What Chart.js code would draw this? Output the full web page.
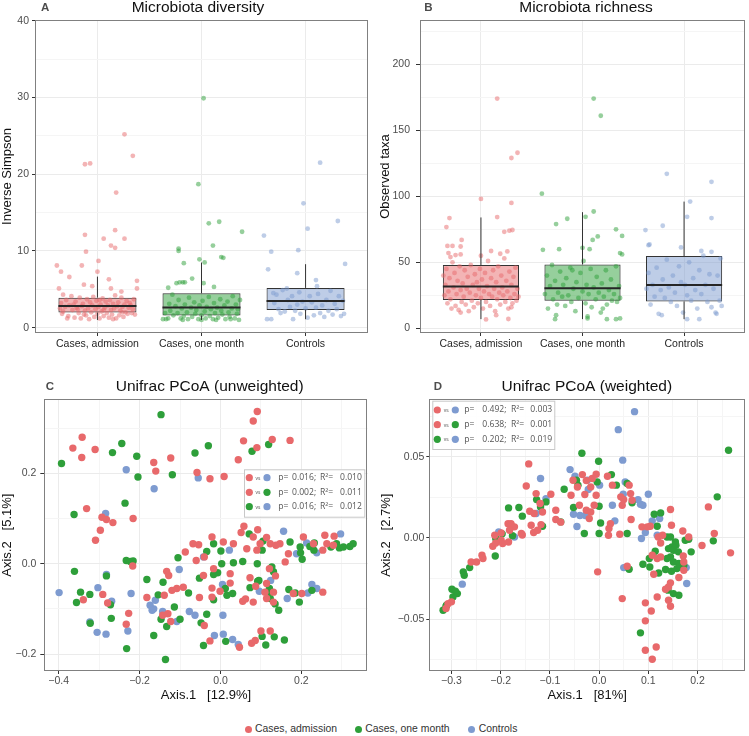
<!DOCTYPE html>
<html>
<head>
<meta charset="utf-8">
<script src="https://cdn.jsdelivr.net/npm/chart.js@4.4.1/dist/chart.umd.min.js"></script>
<style>
  body { margin: 0; background: #fff; width: 749px; height: 736px; position: relative; overflow: hidden;
         font-family: "Liberation Sans", Arial, Helvetica, sans-serif; }
  canvas { position: absolute; }
  #cA { left: 0; top: 0; }
  #cB { left: 375px; top: 0; }
  #cC { left: 0; top: 368px; }
  #cD { left: 375px; top: 368px; }
  .leg { position: absolute; top: 722px; font-size: 10.4px; color: #333; white-space: nowrap; line-height: 14px; }
  .leg i { display: inline-block; width: 7px; height: 7px; border-radius: 50%; margin-right: 3.5px; vertical-align: -0.5px; }
</style>
</head>
<body>
<canvas id="cA" width="375" height="368"></canvas>
<canvas id="cB" width="374" height="368"></canvas>
<canvas id="cC" width="375" height="340"></canvas>
<canvas id="cD" width="374" height="340"></canvas>
<div class="leg" style="left:244.5px"><i style="background:#e8696b"></i>Cases, admission</div>
<div class="leg" style="left:354.8px"><i style="background:#2e9f3a"></i>Cases, one month</div>
<div class="leg" style="left:468.2px"><i style="background:#7e9bd0"></i>Controls</div>
<script>
const FONT = '"Liberation Sans", Arial, Helvetica, sans-serif';
const categories = ['Cases, admission', 'Cases, one month', 'Controls'];
const groupColors = ['#e8696b', '#2e9f3a', '#7e9bd0'];

// A - inverse Simpson (box stats per group, points as [jitter offset, value])
const divQ1 = [1.96, 1.57, 2.31];
const divMed = [2.83, 2.61, 3.48];
const divQ3 = [3.91, 4.48, 5.18];
const divLo = [1.0, 1.0, 1.1];
const divHi = [6.65, 8.48, 8.27];
const divMajor = [0, 10, 20, 30, 40];
const divMinor = [5, 15, 25, 35];
const divAdm = [[-0.12,21.3],[-0.07,21.4],[0.26,25.2],[0.34,22.4],[0.18,17.6],[-0.12,12.1],[0.17,12.7],[0.06,11.6],[0.26,11.6],[-0.11,9.9],[0.13,10.7],[0.17,10.4],[-0.39,8.1],[-0.15,8.1],[0.01,8.7],[-0.35,7.3],[0.0,7.3],[-0.27,6.6],[0.11,6.3],[0.38,6.1],[-0.37,5.1],[-0.13,5.6],[-0.05,5.4],[0.13,5.1],[0.23,4.7],[0.38,5.1],[-0.33,4.3],
  [-0.35,3.2],[-0.33,2.1],[-0.31,2.7],[-0.3,3.6],[-0.28,1.5],[-0.27,2.9],[-0.25,4.1],[-0.24,2.3],[-0.22,1.3],[-0.21,3.4],[-0.2,2.6],[-0.18,1.9],[-0.17,3.9],[-0.16,1.2],[-0.15,2.8],[-0.14,3.1],[-0.12,2.2],[-0.11,1.6],[-0.1,3.7],[-0.09,2.5],[-0.08,1.1],[-0.07,3.3],[-0.06,2.0],[-0.05,2.9],[-0.04,4.0],[-0.03,1.4],[-0.02,2.4],[-0.01,3.5],[0.0,1.8],[0.01,2.7],[0.02,1.2],[0.03,3.0],[0.04,2.1],[0.05,3.8],[0.06,1.5],[0.07,2.6],[0.08,3.4],[0.09,1.9],[0.1,2.9],[0.11,1.3],[0.12,3.6],[0.13,2.3],[0.14,1.7],[0.15,3.1],[0.16,2.5],[0.17,4.2],[0.18,1.2],[0.19,2.8],[0.2,3.3],[0.21,1.6],[0.22,2.2],[0.23,3.9],[0.24,2.7],[0.25,1.4],[0.26,3.0],[0.27,2.0],[0.28,3.5],[0.29,1.8],[0.3,2.6],[0.31,3.2],[0.33,1.9],[0.34,2.4],[0.35,3.7],[0.36,1.7],[-0.36,2.5],[-0.34,1.8],[-0.29,1.2],[-0.23,3.0],[-0.19,2.4],[-0.13,1.7],[0.02,3.6],[0.06,2.3],[0.15,1.1],[0.24,2.0],[0.32,2.9]];
const divMon = [[0.02,29.9],[-0.03,18.7],[0.07,13.6],[0.17,13.8],[0.39,12.5],[-0.22,10.3],[-0.22,10.0],[0.11,10.7],[0.19,9.2],[0.21,9.1],[-0.02,8.9],[0.03,8.5],[-0.17,8.4],[-0.09,6.4],[-0.18,5.9],[-0.24,5.8],[-0.21,5.9],[-0.16,5.9],[-0.32,5.2],[0.12,5.3],[0.02,5.8],
  [-0.37,1.1],[-0.34,1.1],[-0.32,1.2],[-0.31,3.1],[-0.3,2.2],[-0.28,4.3],[-0.27,1.6],[-0.25,2.8],[-0.23,1.9],[-0.22,3.6],[-0.2,1.2],[-0.19,2.5],[-0.17,1.5],[-0.16,3.0],[-0.14,2.0],[-0.13,1.1],[-0.12,3.9],[-0.1,2.6],[-0.09,1.4],[-0.07,3.3],[-0.06,1.8],[-0.05,2.3],[-0.03,1.1],[-0.02,2.9],[0.0,1.6],[0.01,3.5],[0.03,2.1],[0.04,1.2],[0.05,2.7],[0.07,4.0],[0.08,1.5],[0.09,2.4],[0.11,1.1],[0.12,3.2],[0.13,1.9],[0.15,2.6],[0.16,1.3],[0.18,3.7],[0.19,2.2],[0.2,1.7],[0.22,2.9],[0.23,1.1],[0.25,3.4],[0.26,2.0],[0.27,1.4],[0.29,2.5],[0.3,4.1],[0.32,1.2],[0.33,3.0],[0.34,1.8],[0.35,2.4],[0.36,1.0],[0.37,3.6],[-0.35,1.9],[-0.18,1.0],[0.0,1.0],[0.14,1.0],[0.28,1.1]];
const divCtl = [[0.14,21.5],[-0.02,16.2],[0.31,13.9],[-0.4,12.0],[0.02,12.9],[-0.33,9.9],[-0.07,10.1],[0.38,8.3],[-0.36,7.6],[-0.08,7.1],[0.10,6.2],[0.11,5.4],[-0.18,5.1],[-0.31,4.5],
  [-0.37,1.1],[-0.33,1.1],[-0.3,3.2],[-0.28,4.3],[-0.26,2.4],[-0.24,1.9],[-0.22,4.9],[-0.2,2.1],[-0.17,3.6],[-0.15,2.7],[-0.13,4.1],[-0.12,1.1],[-0.1,2.2],[-0.08,3.0],[-0.06,4.6],[-0.05,1.8],[-0.03,3.4],[0.0,2.5],[0.02,1.3],[0.04,4.1],[0.06,3.3],[0.08,1.6],[0.1,2.6],[0.12,4.4],[0.14,1.9],[0.16,2.9],[0.18,1.4],[0.2,3.6],[0.22,2.2],[0.24,4.8],[0.26,1.7],[0.28,3.1],[0.3,2.4],[0.32,4.1],[0.34,1.5],[0.36,3.5],[0.37,1.8]];

// B - observed taxa
const richQ1 = [21.5, 21, 20.4];
const richMed = [31.8, 30.3, 32.8];
const richQ3 = [48, 48.4, 54.8];
const richLo = [7, 7, 7];
const richHi = [84, 88, 96];
const richMajor = [0, 50, 100, 150, 200];
const richMinor = [25, 75, 125, 175, 225];
const richAdm = [[0.16,174],[0.30,129],[0.36,133],[0.0,98],[0.30,95],[-0.31,83.5],[0.16,84.3],[-0.34,76.7],[0.23,73.1],[0.28,74],[0.31,74.5],[-0.19,67],[-0.33,62.4],[-0.28,62.4],[-0.20,62],[0.10,58.6],[0.19,56.5],[0.26,58.3],[-0.32,57],[-0.25,55.5],[-0.20,56],[0.05,6.8],[0.27,7.1],
  [-0.36,25],[-0.35,33],[-0.34,45],[-0.33,19],[-0.32,28],[-0.31,38],[-0.3,22],[-0.29,15],[-0.28,50],[-0.27,31],[-0.26,42],[-0.25,17],[-0.24,26],[-0.23,36],[-0.22,14],[-0.21,47],[-0.2,29],[-0.19,20],[-0.18,34],[-0.17,24],[-0.16,44],[-0.15,18],[-0.14,30],[-0.13,39],[-0.12,13],[-0.11,27],[-0.1,48],[-0.09,21],[-0.08,33],[-0.07,16],[-0.06,41],[-0.05,25],[-0.04,35],[-0.03,19],[-0.02,30],[-0.01,45],[0.0,23],[0.01,37],[0.02,15],[0.03,28],[0.04,42],[0.05,20],[0.06,32],[0.07,51],[0.08,26],[0.09,17],[0.1,38],[0.11,24],[0.12,44],[0.13,30],[0.14,13],[0.15,35],[0.16,22],[0.17,47],[0.18,27],[0.19,18],[0.2,40],[0.21,31],[0.22,25],[0.23,53],[0.24,20],[0.25,36],[0.26,28],[0.27,15],[0.28,43],[0.29,23],[0.3,33],[0.31,19],[0.32,39],[0.33,26],[0.34,46],[0.35,21],[0.36,30],[0.37,24],[-0.37,40],[-0.3,54],[-0.2,12],[0.0,55],[0.15,10],[0.3,16]];
const richMon = [[0.11,174],[0.18,161],[-0.40,102],[-0.15,83],[0.03,84.5],[0.11,88.5],[-0.26,79],[0.33,75],[0.39,70],[0.15,69.6],[0.10,67],[-0.39,59.5],[-0.23,60],[0.0,61],[0.07,60],[0.37,57],[0.39,56],[-0.27,7],[0.05,7.5],[0.24,7],[0.33,7],[0.37,7.5],
  [-0.37,26],[-0.35,40],[-0.34,15],[-0.32,32],[-0.3,48],[-0.29,22],[-0.27,36],[-0.25,18],[-0.24,27],[-0.22,43],[-0.2,24],[-0.19,33],[-0.17,17],[-0.16,38],[-0.14,25],[-0.12,46],[-0.11,20],[-0.09,30],[-0.07,13],[-0.06,35],[-0.04,23],[-0.02,42],[0.0,28],[0.01,51],[0.03,19],[0.04,33],[0.06,26],[0.08,45],[0.09,16],[0.11,31],[0.13,22],[0.14,39],[0.16,27],[0.18,12],[0.19,34],[0.21,24],[0.23,44],[0.24,18],[0.26,29],[0.28,37],[0.29,21],[0.31,26],[0.33,47],[0.34,20],[0.36,32],[0.37,23],[-0.26,10],[0.05,9],[0.2,15],[-0.1,44]];
const richCtl = [[-0.17,117],[0.27,111],[0.06,96],[0.27,83.5],[0.03,84.5],[-0.21,77.7],[-0.38,74.4],[-0.03,61.3],[-0.35,63],[-0.34,63.5],[0.17,58.6],[0.27,58],[-0.22,10],[0.03,7],[0.15,7],[0.32,11],
  [-0.37,30],[-0.35,42],[-0.33,18],[-0.31,33],[-0.29,24],[-0.27,46],[-0.25,11],[-0.23,29],[-0.21,37],[-0.19,23],[-0.17,52],[-0.15,31],[-0.13,20],[-0.11,40],[-0.09,27],[-0.07,17],[-0.05,47],[-0.03,35],[-0.01,12],[0.01,33],[0.03,25],[0.05,50],[0.07,21],[0.09,38],[0.11,29],[0.13,15],[0.15,44],[0.17,26],[0.19,55],[0.21,33],[0.23,20],[0.25,41],[0.27,16],[0.29,30],[0.31,12],[0.33,40],[0.35,21],[0.37,17],[0.36,53]];

// C - unweighted Unifrac PCoA [Axis.1, Axis.2]
const uwAdm = [[-0.365,0.256],[-0.342,0.280],[-0.343,0.235],[-0.310,0.253],[-0.165,0.224],[-0.160,0.205],[-0.123,0.234],[-0.058,0.202],[-0.026,0.188],[0.009,0.193],[0.044,0.230],[0.057,0.272],[0.081,0.316],[0.091,0.337],[0.090,0.257],[0.128,0.275],[0.172,0.273],[-0.331,0.122],[-0.293,0.103],[-0.282,0.098],[-0.266,0.091],[-0.216,0.100],[-0.297,0.074],[-0.309,0.052],
  [-0.217,-0.005],[-0.133,-0.017],[-0.128,-0.026],
  [0.058,0.083],[0.051,0.069],[0.092,0.075],[0.114,0.058],[0.081,0.059],[0.098,0.044],[0.123,0.044],[0.147,0.044],[0.137,0.041],[0.090,0.030],[0.065,0.033],[0.032,0.044],[0.007,0.048],[-0.021,0.059],[-0.054,0.042],[-0.068,0.044],[-0.087,0.026],[-0.060,0.007],[-0.040,0.015],[-0.017,-0.011],[-0.042,-0.026],[0.024,-0.022],[0.073,-0.031],[0.168,0.022],[0.160,0.004],[0.121,-0.011],[0.136,-0.027],[0.230,0.044],[0.258,0.063],[0.281,0.061],[0.263,0.044],[0.205,0.059],[0.253,0.030],[0.279,0.041],
  [-0.120,-0.059],[-0.139,-0.070],[-0.092,-0.052],[-0.108,-0.055],[-0.021,-0.054],[-0.001,-0.061],[0.024,-0.043],[-0.021,-0.074],[-0.052,-0.075],[0.087,-0.050],[0.081,-0.085],[0.055,-0.083],[0.062,-0.078],[0.114,-0.044],[0.110,-0.063],[0.114,-0.077],[0.131,-0.063],[0.131,-0.085],[0.201,-0.066],[0.253,-0.063],[0.180,-0.066],[-0.291,-0.068],[-0.339,-0.080],[-0.279,-0.087],[-0.227,-0.110],[-0.233,-0.134],[-0.182,-0.075],[-0.143,-0.114],[-0.130,-0.111],[-0.123,-0.128],[-0.040,-0.137],[-0.026,-0.171],[0.077,-0.176],[0.086,-0.170],[0.100,-0.149],[0.047,-0.185],[0.123,-0.149]];
const uwMon = [[-0.393,0.222],[-0.267,0.246],[-0.244,0.266],[-0.207,0.238],[-0.204,0.192],[-0.147,0.330],[-0.119,0.197],[-0.063,0.245],[-0.030,0.261],[0.078,0.249],[0.119,0.264],[-0.362,0.109],[-0.236,0.134],
  [-0.233,0.007],[-0.223,0.005],[-0.216,0.006],[-0.361,-0.017],[-0.282,-0.027],[-0.182,-0.035],
  [0.071,0.066],[0.105,0.050],[-0.017,0.044],[-0.034,0.027],[0.001,0.028],[-0.105,0.013],[0.003,0.000],[0.032,0.002],[0.055,0.005],[0.091,0.000],[0.103,0.030],[0.172,0.048],[0.197,0.037],[0.198,0.024],[0.202,0.010],[0.221,0.038],[0.232,0.046],[0.231,0.030],[0.273,0.037],[0.287,0.044],[0.294,0.035],[0.304,0.037],[0.328,0.044],[0.320,0.038],[-0.007,-0.020],[-0.017,-0.024],[-0.052,-0.032],[0.095,-0.037],[0.127,-0.007],[0.131,-0.018],
  [-0.346,-0.063],[-0.323,-0.068],[-0.356,-0.086],[-0.272,-0.091],[-0.270,-0.121],[-0.322,-0.132],[-0.232,-0.188],[-0.142,-0.041],[-0.154,-0.069],[-0.079,-0.065],[-0.017,-0.080],[0.012,-0.055],[0.016,-0.070],[0.030,-0.066],[0.092,-0.039],[0.073,-0.053],[0.121,-0.055],[0.119,-0.070],[0.123,-0.077],[0.135,-0.089],[0.144,-0.103],[0.169,-0.057],[0.185,-0.065],[0.195,-0.085],[0.226,-0.059],[-0.034,-0.112],[-0.048,-0.131],[-0.100,-0.123],[-0.114,-0.096],[-0.147,-0.123],[-0.133,-0.139],[-0.165,-0.159],[-0.136,-0.212],[-0.042,-0.181],[0.013,-0.172],[0.103,-0.161],[0.112,-0.180],[0.133,-0.162],[0.158,-0.169]];
const uwCtl = [[-0.233,0.208],[-0.164,0.166],[-0.055,0.190],[-0.284,0.111],[-0.282,-0.024],
  [0.156,0.072],[0.022,0.030],[-0.042,0.015],[-0.102,-0.013],[0.213,0.046],[0.188,0.022],[0.238,0.024],[0.297,0.066],[0.124,-0.037],
  [-0.399,-0.064],[-0.303,-0.053],[-0.269,-0.083],[-0.221,-0.066],[-0.323,-0.129],[-0.305,-0.152],[-0.283,-0.156],[-0.229,-0.149],[-0.174,-0.092],[-0.165,-0.100],[-0.161,-0.081],[-0.169,-0.103],[-0.143,-0.106],[-0.108,-0.128],[-0.077,-0.106],[-0.063,-0.114],[0.005,-0.046],[0.006,-0.114],[-0.015,-0.159],[0.007,-0.156],[0.030,-0.168],[0.044,-0.179],[0.096,-0.061],[0.165,-0.077],[0.216,-0.065],[0.226,-0.046],[0.238,-0.055]];
const uwXMajor = [-0.4, -0.2, 0, 0.2];
const uwXMinor = [-0.3, -0.1, 0.1, 0.3];
const uwYMajor = [-0.2, 0, 0.2];
const uwYMinor = [-0.1, 0.1, 0.3];

// D - weighted Unifrac PCoA
const wAdm = [[-0.143,0.0456],[-0.148,0.0320],[-0.128,0.0273],[-0.120,0.0212],[-0.141,0.0164],[-0.132,0.0150],[-0.098,0.0269],[-0.115,0.0160],[-0.088,0.0113],[-0.078,0.0097],[-0.088,0.0170],[-0.185,0.0088],[-0.179,0.0088],[-0.172,0.0068],[-0.158,0.0027],[-0.199,0.0031],[-0.182,0.0047],[-0.138,0.0078],[-0.133,0.0033],[-0.125,0.0047],[-0.118,0.0082],[-0.156,0.0018],[-0.057,0.0263],[-0.053,0.0355],[-0.034,0.0390],[-0.026,0.0353],[-0.044,0.0314],[-0.017,0.0314],[-0.029,0.0267],[-0.040,0.0201],[-0.026,0.0170],[0.017,0.0380],[0.027,0.0325],[0.061,0.0325],[-0.212,0.0016],[-0.199,-0.0014],[-0.014,0.0366],[-0.006,0.0392],
  [-0.006,0.0263],[0.044,0.0253],[0.050,0.0236],[0.064,0.0273],[0.067,0.0232],[0.047,0.0201],[-0.010,0.0201],[-0.017,0.0160],[-0.020,0.0119],[0.023,0.0088],[0.020,0.0058],[0.019,0.0016],[0.042,0.0023],[0.065,0.0113],[0.087,0.0068],[0.098,0.0068],[0.104,0.0072],[0.145,0.0175],[0.147,0.0078],[0.120,0.0006],[0.129,0.0016],[0.125,-0.0031],[0.170,0.0043],[0.182,0.0006],[0.209,-0.0047],[0.234,0.0027],[0.267,-0.0092],[0.222,0.0191],[0.108,-0.0107],[0.118,-0.0127],[0.125,-0.0117],[0.171,-0.0111],[0.172,-0.0148],[0.172,-0.0199],[0.162,-0.0244],[0.145,-0.0277],[0.141,-0.0302],[0.135,-0.0316],[0.111,-0.0224],[0.057,-0.0175],[-0.003,-0.0209],[0.118,-0.0364],[0.141,-0.0384],[0.047,-0.0374],
  [-0.216,-0.0051],[-0.210,-0.0031],[-0.196,-0.0035],[-0.184,-0.0025],[-0.260,-0.0148],[-0.249,-0.0148],[-0.238,-0.0107],[-0.236,-0.0127],[-0.300,-0.0394],[-0.307,-0.0405],[-0.311,-0.0435],[0.094,-0.0400],[0.106,-0.0450],[0.094,-0.0511],[0.145,-0.0421],[0.094,-0.0692],[0.116,-0.0672],[0.108,-0.0748]];
const wMon = [[-0.035,0.0522],[-0.001,0.0472],[-0.127,0.0236],[-0.108,0.0222],[-0.119,0.0191],[-0.071,0.0300],[-0.046,0.0355],[-0.043,0.0325],[-0.004,0.0345],[0.025,0.0390],[0.035,0.0325],[0.057,0.0335],[-0.030,0.0027],[-0.156,0.0134],[-0.163,0.0187],[-0.184,0.0185],[-0.197,0.0025],[-0.176,0.0014],[-0.210,-0.0004],[-0.078,0.0099],[-0.115,0.0072],[-0.052,0.0187],[0.263,0.0540],
  [0.000,0.0195],[0.003,0.0092],[0.000,0.0027],[0.057,0.0027],[0.067,0.0216],[0.112,0.0146],[0.125,0.0154],[0.118,0.0072],[0.138,0.0006],[0.145,0.0006],[0.155,-0.0025],[0.175,-0.0014],[0.182,-0.0008],[0.148,-0.0055],[0.141,-0.0066],[0.151,-0.0076],[0.161,-0.0086],[0.156,-0.0045],[0.187,-0.0086],[0.114,-0.0082],[0.102,-0.0127],[0.089,-0.0162],[0.103,-0.0179],[0.121,-0.0216],[0.135,-0.0195],[0.147,-0.0205],[0.158,-0.0189],[0.165,-0.0179],[0.162,-0.0158],[0.172,-0.0168],[0.151,-0.0148],[0.145,-0.0117],[0.138,-0.0127],[0.140,-0.0322],[0.151,-0.0343],[0.162,-0.0353],[0.061,-0.0193],[0.232,-0.0018],[0.240,0.0253],
  [-0.211,-0.0111],[-0.208,-0.0014],[-0.263,-0.0183],[-0.276,-0.0209],[-0.274,-0.0230],[-0.299,-0.0316],[-0.288,-0.0343],[-0.297,-0.0364],[-0.292,-0.0329],[-0.310,-0.0415],[-0.317,-0.0446],[-0.311,-0.0421],[0.084,-0.0585]];
const wCtl = [[0.072,0.0778],[0.039,0.0667],[0.048,0.0479],[0.053,0.0345],[-0.059,0.0421],[-0.049,0.0380],[-0.022,0.0298],[0.001,0.0325],[-0.119,0.0366],[-0.108,0.0242],[-0.128,0.0150],[-0.052,0.0146],[-0.039,0.0138],[-0.028,0.0138],[-0.045,0.0070],[-0.204,0.0037],[-0.172,0.0006],[-0.024,0.0355],
  [0.027,0.0201],[0.084,0.0207],[0.089,0.0201],[0.100,0.0269],[0.079,0.0236],[0.049,0.0269],[0.032,0.0105],[0.108,0.0105],[0.123,0.0119],[0.094,0.0033],[0.118,0.0016],[0.086,-0.0004],[0.177,-0.0183],[0.178,-0.0281],[0.050,-0.0183],
  [-0.278,-0.0285]];
const wXMajor = [-0.3, -0.2, -0.1, 0, 0.1, 0.2];
const wXMinor = [-0.25, -0.15, -0.05, 0.05, 0.15, 0.25];
const wYMajor = [-0.05, 0, 0.05];
const wYMinor = [-0.075, -0.025, 0.025, 0.075];

// pairwise tests shown in the C and D insets
const statPairs = [[0, 2], [0, 1], [1, 2]];
const uwP = ['0.016', '0.002', '0.016'];
const uwR2 = ['0.010', '0.011', '0.012'];
const wP = ['0.492', '0.638', '0.202'];
const wR2 = ['0.003', '0.001', '0.019'];

function rgba(hex, a) {
  const n = parseInt(hex.slice(1), 16);
  return `rgba(${n >> 16},${(n >> 8) & 255},${n & 255},${a})`;
}
const fmtNum = d => v => (v < 0 ? '\u2212' : '') + Math.abs(v).toFixed(d);

function axis(o) {
  return {
    type: 'linear', bounds: 'data', offset: false,
    min: o.min, max: o.max,
    afterBuildTicks: s => {
      s.ticks = o.major.map(v => ({ value: v, isMajor: true }))
        .concat(o.minor.map(v => ({ value: v, isMajor: false })))
        .sort((a, b) => a.value - b.value);
    },
    afterFit: s => { if (o.width) s.width = o.width; if (o.height) s.height = o.height; },
    grid: {
      color: c => (c.tick && c.tick.isMajor) ? '#ebebeb' : '#f5f5f5',
      tickColor: c => (c.tick && c.tick.isMajor) ? '#333' : 'rgba(0,0,0,0)',
      tickLength: o.tickLength || 3, lineWidth: 1, offset: false
    },
    border: { display: false },
    ticks: {
      autoSkip: false, maxRotation: 0, padding: o.pad,
      color: o.labelColor || '#4d4d4d',
      font: { family: FONT, size: 10.5 },
      callback: (v, i, t) => t[i].isMajor ? o.fmt(v) : ''
    },
    title: o.title ? {
      display: true, text: o.title, color: '#111',
      font: { family: FONT, size: 13 }, padding: o.titlePad
    } : { display: false }
  };
}

const panelFrame = {
  id: 'panelFrame',
  afterDatasetsDraw(chart) {
    const a = chart.chartArea, ctx = chart.ctx;
    ctx.save();
    ctx.strokeStyle = '#808080';
    ctx.lineWidth = 1;
    ctx.strokeRect(Math.round(a.left) + 0.5, Math.round(a.top) + 0.5,
      Math.round(a.right - a.left) - 1, Math.round(a.bottom - a.top) - 1);
    ctx.restore();
  }
};

const panelTitle = {
  id: 'panelTitle',
  afterDraw(chart, args, o) {
    const ctx = chart.ctx;
    ctx.save();
    ctx.textBaseline = 'middle';
    ctx.textAlign = 'left';
    ctx.fillStyle = '#4d4d4d';
    ctx.font = 'bold 11.5px ' + FONT;
    ctx.fillText(o.letter, o.letterX, o.y);
    ctx.textAlign = 'center';
    ctx.fillStyle = '#111';
    ctx.font = '15.5px ' + FONT;
    ctx.fillText(o.text, o.textX, o.y);
    ctx.restore();
  }
};

const statBox = {
  id: 'statBox',
  afterDraw(chart, args, o) {
    if (!o.p) return;
    const ctx = chart.ctx;
    ctx.save();
    ctx.fillStyle = 'rgba(255,255,255,0.9)';
    ctx.strokeStyle = '#c8c8c8';
    ctx.lineWidth = 1;
    ctx.fillRect(o.x, o.y, o.w, o.h);
    ctx.strokeRect(o.x + 0.5, o.y + 0.5, o.w, o.h);
    ctx.textBaseline = 'middle';
    statPairs.forEach((pair, i) => {
      const y = o.rows[i];
      [[pair[0], o.dx[0]], [pair[1], o.dx[2]]].forEach(([g, dx]) => {
        ctx.fillStyle = groupColors[g];
        ctx.beginPath();
        ctx.arc(o.x + dx, y, 3.6, 0, Math.PI * 2);
        ctx.fill();
      });
      ctx.fillStyle = '#555';
      ctx.textAlign = 'center';
      ctx.font = '5px "Open Sans", ' + FONT;
      ctx.fillText('vs', o.x + o.dx[1], y + 0.5);
      ctx.textAlign = 'left';
      ctx.font = '8.6px "Open Sans", ' + FONT;
      ctx.fillText('p=', o.x + o.dx[3], y);
      ctx.fillText(o.p[i] + ';', o.x + o.dx[4], y);
      ctx.fillText('R\u00b2=', o.x + o.dx[5], y);
      ctx.fillText(o.r2[i], o.x + o.dx[6], y);
    });
    ctx.restore();
  }
};

function boxPanel(id, q1, med, q3, lo, hi, groups, yo, titleOpts) {
  const datasets = [];
  datasets.push({
    type: 'bar', order: 3,
    data: q1.map((v, i) => ({ x: i + 1, y: [v, q3[i]] })),
    backgroundColor: groupColors.map(c => rgba(c, 0.5)),
    borderColor: '#333', borderWidth: 1, borderSkipped: false,
    barPercentage: 0.75, categoryPercentage: 1
  });
  groups.forEach((g, gi) => datasets.push({
    type: 'scatter', order: 2,
    data: g.map(p => ({ x: gi + 1 + p[0], y: p[1] })),
    backgroundColor: rgba(groupColors[gi], 0.5), borderWidth: 0, pointRadius: 2.4
  }));
  const whisk = [], meds = [];
  q1.forEach((v, i) => {
    const c = i + 1;
    whisk.push({ x: c, y: q3[i] }, { x: c, y: hi[i] }, { x: c, y: null },
               { x: c, y: lo[i] }, { x: c, y: v }, { x: c, y: null });
    meds.push({ x: c - 0.375, y: med[i] }, { x: c + 0.375, y: med[i] }, { x: c, y: null });
  });
  datasets.push({ type: 'scatter', order: 1, showLine: true, data: whisk,
    borderColor: '#333', borderWidth: 1, pointRadius: 0, spanGaps: false });
  datasets.push({ type: 'scatter', order: 1, showLine: true, data: meds,
    borderColor: '#262626', borderWidth: 2, pointRadius: 0, spanGaps: false });

  new Chart(document.getElementById(id), {
    type: 'scatter',
    data: { datasets },
    options: {
      responsive: false, animation: false, events: [],
      layout: { padding: yo.padding },
      plugins: { legend: { display: false }, tooltip: { enabled: false }, panelTitle: titleOpts },
      scales: {
        x: axis({ min: 0.4, max: 3.6, major: [1, 2, 3], minor: [], fmt: v => categories[v - 1],
                  height: 35, pad: 2, labelColor: '#262626' }),
        y: axis(yo.y)
      }
    },
    plugins: [panelFrame, panelTitle]
  });
}

function pcoaPanel(id, groups, xo, yo, padding, titleOpts, statOpts) {
  new Chart(document.getElementById(id), {
    type: 'scatter',
    data: {
      datasets: groups.map((g, gi) => ({
        data: g.map(p => ({ x: p[0], y: p[1] })),
        backgroundColor: groupColors[gi], borderWidth: 0, pointRadius: 3.7
      }))
    },
    options: {
      responsive: false, animation: false, events: [],
      layout: { padding },
      plugins: { legend: { display: false }, tooltip: { enabled: false },
                 panelTitle: titleOpts, statBox: statOpts },
      scales: { x: axis(xo), y: axis(yo) }
    },
    plugins: [panelFrame, panelTitle, statBox]
  });
}

boxPanel('cA', divQ1, divMed, divQ3, divLo, divHi, [divAdm, divMon, divCtl], {
  padding: { top: 20, right: 7, left: 0, bottom: 0 },
  y: { min: -0.7, max: 40.1, major: divMajor, minor: divMinor, fmt: v => String(v),
       width: 35, pad: 3, title: 'Inverse Simpson', titlePad: { top: 0, bottom: 0 } }
}, { letter: 'A', letterX: 41, text: 'Microbiota diversity', textX: 198, y: 8 });

boxPanel('cB', richQ1, richMed, richQ3, richLo, richHi, [richAdm, richMon, richCtl], {
  padding: { top: 20, right: 2.3, left: 0, bottom: 0 },
  y: { min: -3.5, max: 233.5, major: richMajor, minor: richMinor, fmt: v => String(v),
       width: 45, pad: 6, tickLength: 4, title: 'Observed taxa', titlePad: { top: 3, bottom: 0 } }
}, { letter: 'B', letterX: 49.3, text: 'Microbiota richness', textX: 211, y: 8 });

pcoaPanel('cC', [uwAdm, uwMon, uwCtl],
  { min: -0.4356, max: 0.364, major: uwXMajor, minor: uwXMinor, fmt: fmtNum(1),
    height: 37, pad: 1, title: 'Axis.1   [12.9%]', titlePad: { top: 0, bottom: 5 } },
  { min: -0.2376, max: 0.364, major: uwYMajor, minor: uwYMinor, fmt: fmtNum(1),
    width: 44.3, pad: 4, tickLength: 4, title: 'Axis.2   [5.1%]', titlePad: { top: 0, bottom: 0 } },
  { top: 31.3, right: 7.3, left: 0, bottom: 0 },
  { letter: 'C', letterX: 45.7, text: 'Unifrac PCoA (unweighted)', textX: 209.7, y: 18.5 },
  { x: 244, y: 101.3, w: 120.3, h: 47.4, rows: [109.7, 124.3, 138.7],
    dx: [5.3, 14, 23, 34.3, 48, 76, 96], p: uwP, r2: uwR2 });

pcoaPanel('cD', [wAdm, wMon, wCtl],
  { min: -0.345, max: 0.2964, major: wXMajor, minor: wXMinor, fmt: fmtNum(1),
    height: 37, pad: 1, title: 'Axis.1   [81%]', titlePad: { top: 0, bottom: 5 } },
  { min: -0.082, max: 0.0854, major: wYMajor, minor: wYMinor, fmt: fmtNum(2),
    width: 54.3, pad: 2, title: 'Axis.2   [2.7%]', titlePad: { top: 3.5, bottom: 0 } },
  { top: 31.3, right: 2.3, left: 0, bottom: 0 },
  { letter: 'D', letterX: 58.7, text: 'Unifrac PCoA (weighted)', textX: 211.8, y: 18.5 },
  { x: 57.3, y: 32.7, w: 122, h: 48.3, rows: [42, 56.7, 71.3],
    dx: [5, 14, 23, 32, 50, 78.7, 98], p: wP, r2: wR2 });
</script>
</body>
</html>
